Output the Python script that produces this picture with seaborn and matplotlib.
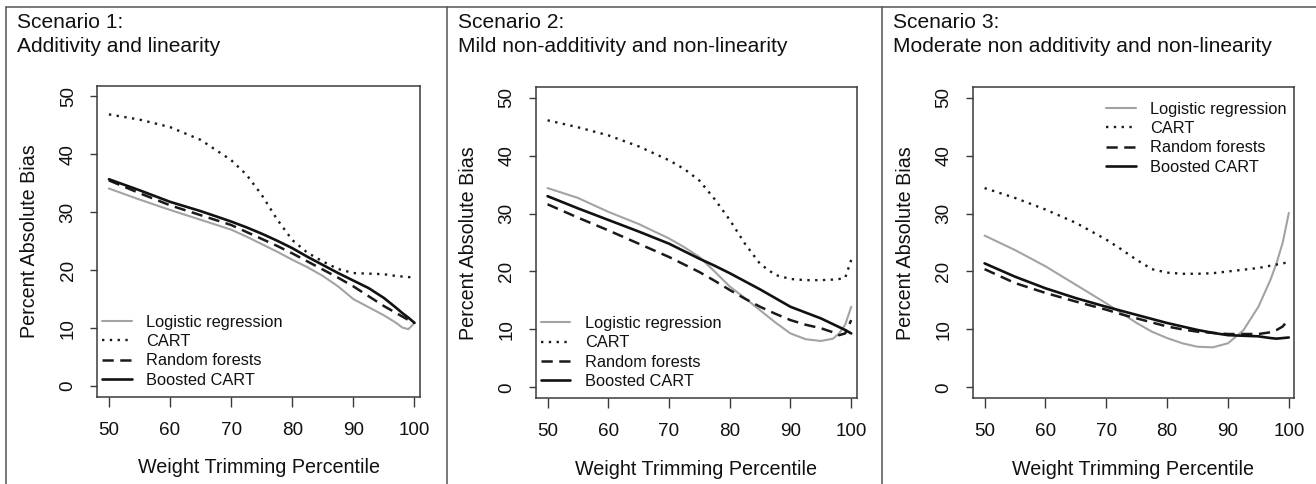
import matplotlib
matplotlib.use("Agg")
import matplotlib.pyplot as plt
from matplotlib.lines import Line2D
import seaborn as sns
import pandas as pd

# ---------------- data ----------------
pct = [50, 55, 60, 65, 70, 72.5, 75, 77.5, 80, 82.5, 85, 87.5, 90, 92.5, 95, 97, 98, 99, 100]

methods = ["Logistic regression", "CART", "Random forests", "Boosted CART"]

titles = [
    "Scenario 1:\nAdditivity and linearity",
    "Scenario 2:\nMild non-additivity and non-linearity",
    "Scenario 3:\nModerate non additivity and non-linearity",
]

# Scenario 1
s1_logistic = [34.1, 32.2, 30.4, 28.7, 27.0, 25.8, 24.5, 23.2, 21.8, 20.5, 19.0, 17.2, 15.0, 13.6, 12.2, 10.9, 10.1, 9.8, 10.9]
s1_cart     = [46.9, 46.0, 44.7, 42.5, 39.0, 36.5, 33.0, 28.8, 25.2, 23.0, 21.5, 20.2, 19.5, 19.4, 19.3, 19.0, 18.9, 18.8, 18.8]
s1_rf       = [35.5, 33.3, 31.2, 29.5, 27.8, 26.6, 25.4, 24.2, 22.9, 21.5, 20.1, 18.7, 17.2, 15.5, 13.8, 12.6, 12.0, 11.4, 10.9]
s1_boost    = [35.7, 33.8, 31.8, 30.2, 28.4, 27.4, 26.3, 25.1, 23.8, 22.3, 20.9, 19.5, 18.2, 16.9, 15.2, 13.5, 12.6, 11.8, 10.9]

# Scenario 2
s2_logistic = [34.4, 32.7, 30.3, 28.2, 25.7, 24.2, 22.5, 20.0, 17.4, 15.4, 13.3, 11.2, 9.3, 8.3, 8.0, 8.4, 9.3, 10.8, 13.9]
s2_cart     = [46.1, 44.9, 43.5, 41.6, 39.2, 37.7, 35.7, 32.5, 28.9, 24.8, 21.3, 19.4, 18.7, 18.5, 18.5, 18.6, 18.7, 18.9, 22.0]
s2_rf       = [31.6, 29.3, 27.1, 24.8, 22.5, 21.2, 19.9, 18.4, 16.8, 15.3, 13.9, 12.7, 11.6, 10.8, 10.2, 9.5, 9.0, 9.3, 11.6]
s2_boost    = [33.0, 30.9, 28.9, 26.9, 24.8, 23.5, 22.2, 21.0, 19.7, 18.3, 16.9, 15.4, 13.9, 12.9, 11.9, 10.9, 10.4, 9.9, 9.3]

# Scenario 3
s3_logistic = [26.2, 23.7, 20.9, 17.7, 14.5, 12.8, 11.1, 9.6, 8.5, 7.6, 7.0, 6.9, 7.6, 9.8, 13.9, 18.6, 21.5, 25.0, 30.1]
s3_cart     = [34.4, 32.7, 30.7, 28.4, 25.5, 23.8, 22.0, 20.4, 19.8, 19.6, 19.6, 19.7, 20.0, 20.3, 20.6, 21.0, 21.2, 21.4, 21.6]
s3_rf       = [20.4, 18.0, 16.3, 14.8, 13.4, 12.6, 11.9, 11.2, 10.5, 10.0, 9.6, 9.4, 9.2, 9.2, 9.2, 9.5, 9.9, 10.5, 11.8]
s3_boost    = [21.4, 19.1, 17.1, 15.4, 13.9, 13.2, 12.5, 11.8, 11.1, 10.5, 9.9, 9.4, 9.0, 8.9, 8.8, 8.5, 8.4, 8.5, 8.6]

scenarios = [
    [s1_logistic, s1_cart, s1_rf, s1_boost],
    [s2_logistic, s2_cart, s2_rf, s2_boost],
    [s3_logistic, s3_cart, s3_rf, s3_boost],
]

x_ticks = [50, 60, 70, 80, 90, 100]
y_ticks = [0, 10, 20, 30, 40, 50]

# ---------------- style ----------------
sns.set_theme(style="white")
plt.rcParams["font.family"] = ["Liberation Sans", "DejaVu Sans"]

W, H = 1316, 484
fig = plt.figure(figsize=(W / 100, H / 100), dpi=100)

styles = {
    "Logistic regression": dict(color="#a3a3a3", linewidth=1.5, linestyle="-"),
    "CART": dict(color="#1a1a1a", linewidth=1.7, linestyle=(0, (1, 2.3))),
    "Random forests": dict(color="#1a1a1a", linewidth=1.8, linestyle=(0, (4.5, 2.6))),
    "Boosted CART": dict(color="#111111", linewidth=1.9, linestyle="-"),
}

# axes boxes in pixels: left, top, right, bottom
boxes = [(97, 86, 420, 397), (535.7, 87.3, 856.7, 398.3), (972.7, 87.3, 1294.3, 398.3)]
title_x = [17.3, 458.3, 892.7]
legend_anchor = [(0.0155, 0.265), (0.0156, 0.265), (0.4145, 0.954)]

for i in range(3):
    l, t, r, b = boxes[i]
    ax = fig.add_axes([l / W, 1 - b / H, (r - l) / W, (b - t) / H])
    for m, vals in zip(methods, scenarios[i]):
        df_m = pd.DataFrame({"Weight Trimming Percentile": pct, "Percent Absolute Bias": vals})
        sns.lineplot(data=df_m, x="Weight Trimming Percentile", y="Percent Absolute Bias",
                     ax=ax, label=m, **styles[m])
    ax.set_xlim(48.05, 100.9)
    ax.set_ylim(-1.9, 51.8)
    ax.set_xticks(x_ticks)
    ax.set_yticks(y_ticks)
    ax.set_xticklabels([str(v) for v in x_ticks])
    ax.set_yticklabels([str(v) for v in y_ticks])
    for sp in ax.spines.values():
        sp.set_color("#3a3a3a")
        sp.set_linewidth(1.1)
    ax.tick_params(axis="x", direction="out", length=7.2, width=1.0, color="#3a3a3a",
                   pad=10.5, labelsize=13.6, labelcolor="#111111", bottom=True)
    ax.tick_params(axis="y", direction="out", length=5.0, width=1.0, color="#3a3a3a",
                   pad=9.6, labelsize=13.6, labelcolor="#111111", left=True, labelrotation=90)
    for lab in ax.get_yticklabels():
        lab.set_verticalalignment("center")
    ax.set_xlabel("Weight Trimming Percentile", fontsize=14.2, color="#111111")
    ax.set_ylabel("Percent Absolute Bias", fontsize=14.2, color="#111111")
    ax.xaxis.set_label_coords(0.5, -0.228)
    ax.xaxis.label.set_verticalalignment("center")
    ax.yaxis.set_label_coords(-0.21, 0.5)
    ax.yaxis.label.set_verticalalignment("center")
    ax.grid(False)
    ax.set_facecolor("white")

    leg = ax.legend(loc="upper left", bbox_to_anchor=legend_anchor[i], frameon=False,
                    fontsize=11.8, handlelength=1.8, handletextpad=0.9, labelspacing=0.27,
                    borderpad=0, borderaxespad=0)
    for txt in leg.get_texts():
        txt.set_color("#111111")

    line1, line2 = titles[i].split("\n")
    fig.text(title_x[i] / W, 1 - 28 / H, line1, fontsize=15.1, va="baseline", ha="left", color="#111111")
    fig.text(title_x[i] / W, 1 - 51.7 / H, line2, fontsize=15.1, va="baseline", ha="left", color="#111111")

# panel frame lines
frame_kw = dict(color="#555555", linewidth=1.1, transform=fig.transFigure)
fig.add_artist(Line2D([6 / W, 1], [1 - 6.7 / H, 1 - 6.7 / H], **frame_kw))
for xp in [6, 446.7, 881.7]:
    fig.add_artist(Line2D([xp / W, xp / W], [0, 1 - 6.7 / H], **frame_kw))

fig.savefig("out.png", dpi=100, facecolor="white")
